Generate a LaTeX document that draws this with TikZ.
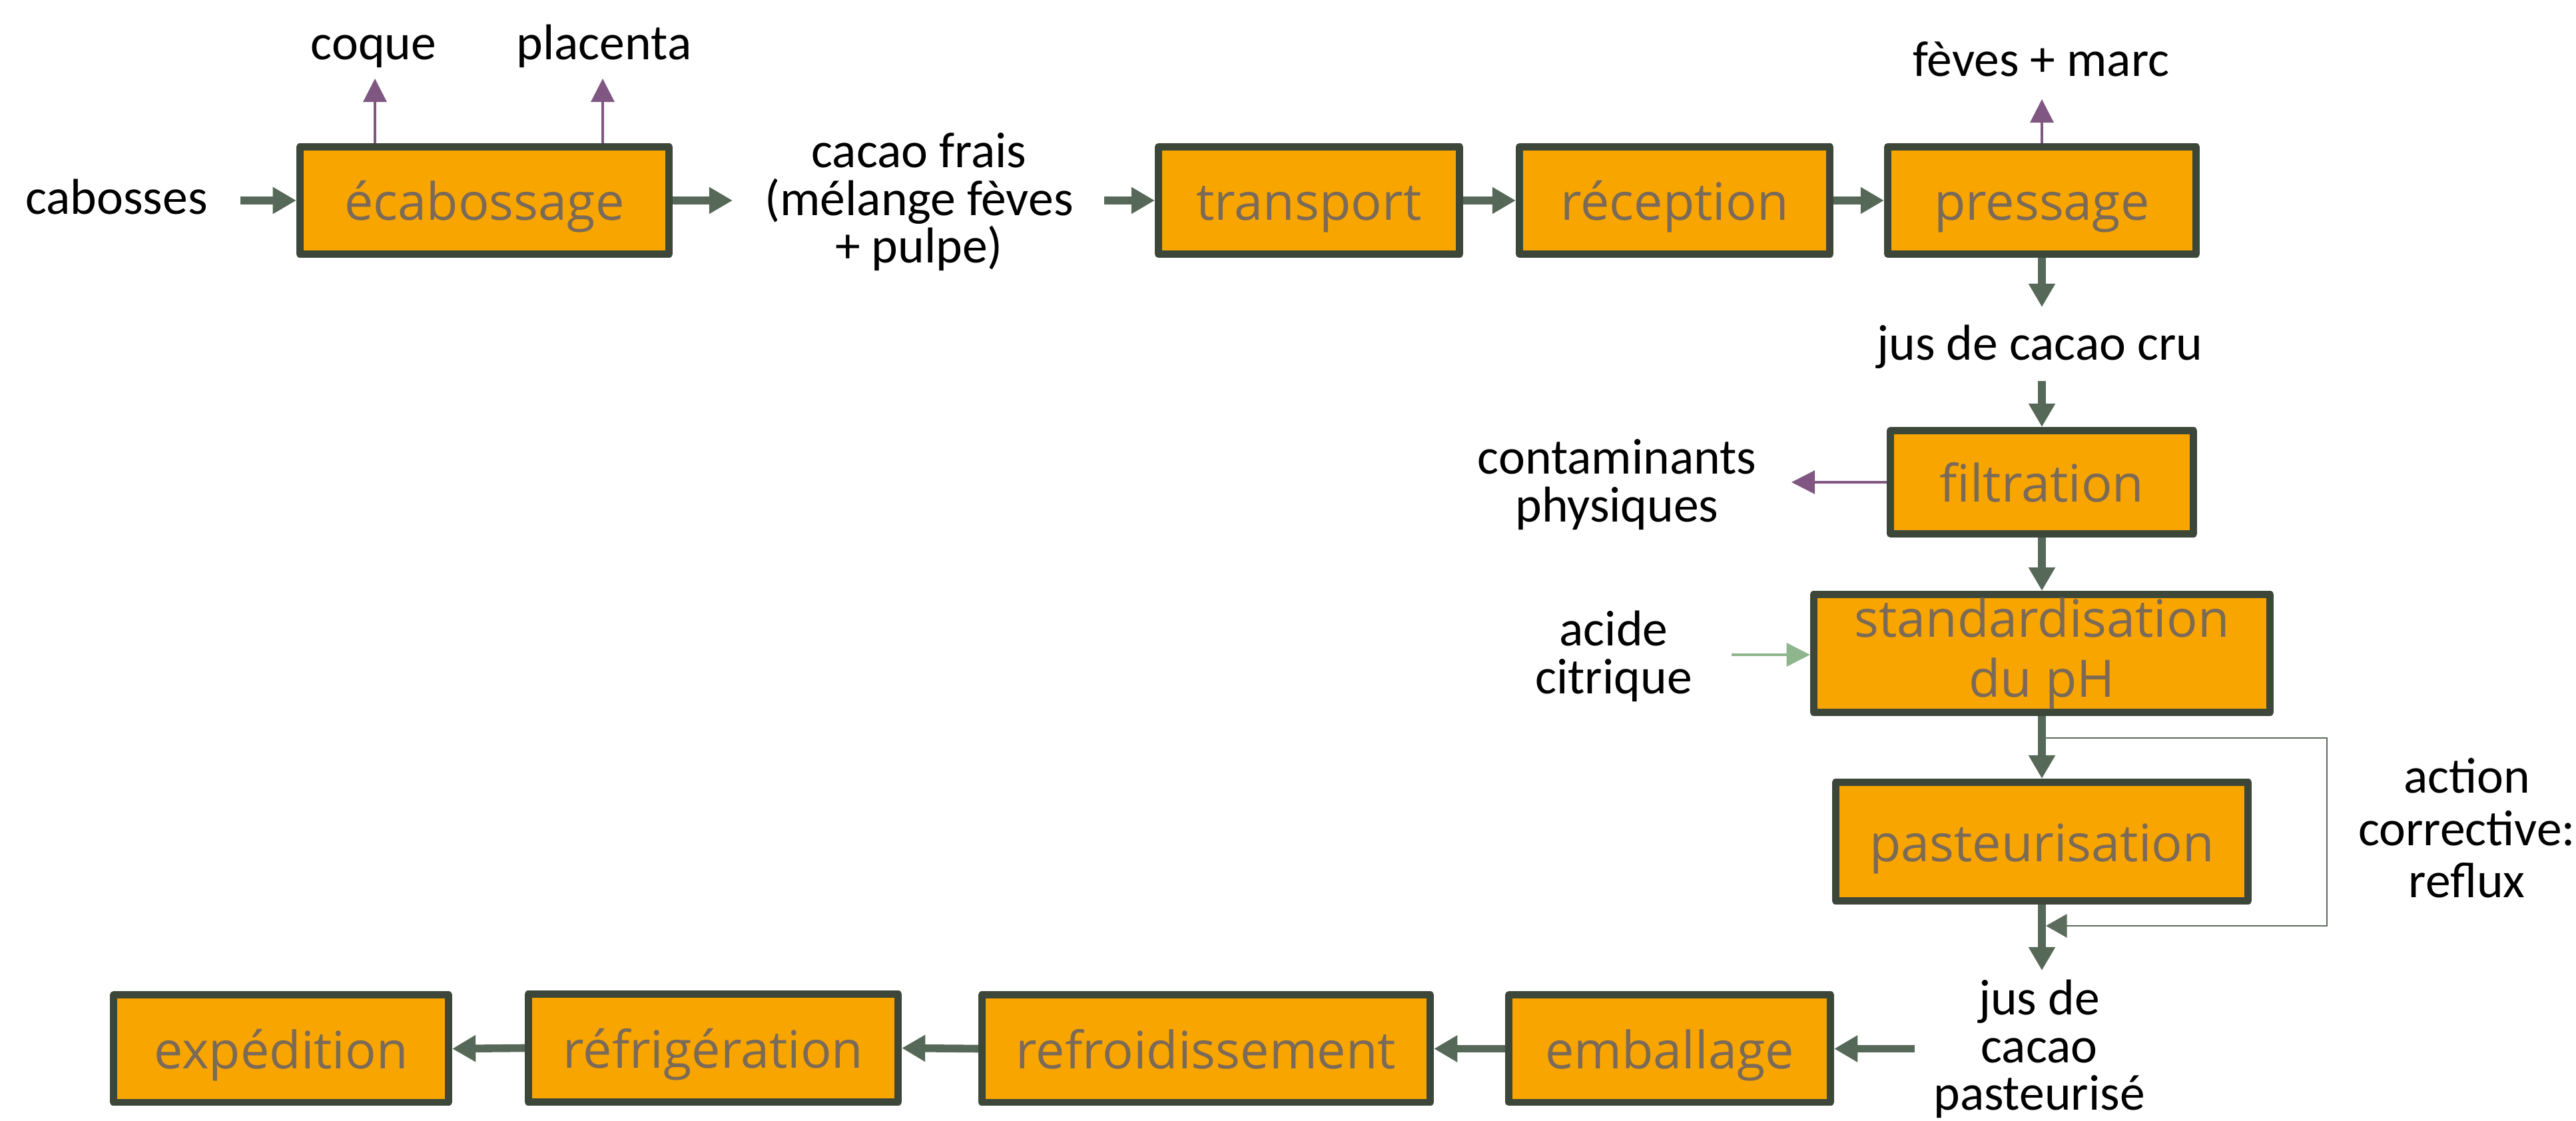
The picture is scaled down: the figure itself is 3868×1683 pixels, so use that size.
\documentclass[tikz,border=0pt]{standalone}
\usepackage{fontspec}
\setmainfont{Carlito}
\newfontfamily\boxfont{Open Sans}
\usetikzlibrary{arrows.meta}
\definecolor{boxfill}{HTML}{F8A500}
\definecolor{boxline}{HTML}{3C473A}
\definecolor{flow}{HTML}{566858}
\definecolor{waste}{HTML}{805782}
\definecolor{addin}{HTML}{8FB58C}
\definecolor{boxtext}{HTML}{7B6A58}
\definecolor{fbline}{HTML}{5D6D5D}
\newcommand\ml[1]{\vtop{\lineskiplimit=-100pt\lineskip=0pt\halign{\hfil##\hfil\cr#1\crcr}}}
\begin{document}
\begin{tikzpicture}[x=0.01cm,y=-0.01cm,
  procbase/.style={draw=boxline, line width=3.1pt, line join=round, fill=boxfill, text=boxtext,
    font=\boxfont\fontsize{22}{25.6}\selectfont, inner sep=0pt, minimum height=1.61cm},
  proc/.style={procbase, text height=21pt, text depth=4pt},
  lbl/.style={anchor=base, inner sep=0pt, font=\fontsize{21.5}{20.3}\selectfont},
  flowarr/.style={draw=flow, line width=3.3pt, -{Triangle[length=10pt,width=10.8pt]}},
  wastearr/.style={draw=waste, line width=0.9pt, -{Triangle[length=10pt,width=10pt]}},
  addarr/.style={draw=addin, line width=0.9pt, -{Triangle[length=10pt,width=10pt]}},
  looparr/.style={draw=fbline, line width=0.7pt, -{Triangle[length=9pt,width=10pt]}}
]
\useasboundingbox (0,0) rectangle (3868,1683);

% process boxes
\node[proc, minimum width=5.54cm] (ecab) at (727.5,301) {écabossage};
\node[proc, minimum width=4.52cm] (transp) at (1965.5,301) {transport};
\node[proc, minimum width=4.66cm] (recep) at (2514.5,301) {réception};
\node[proc, minimum width=4.63cm] (press) at (3066,301) {pressage};
\node[proc, minimum width=4.55cm, minimum height=1.55cm] (filt) at (3066,724) {filtration};
\node[procbase, minimum width=6.85cm, minimum height=1.77cm, align=center] (stdph) at (3066,981) {standardisation\\du pH};
\node[proc, minimum width=6.19cm, minimum height=1.78cm] (past) at (3066,1263.5) {pasteurisation};
\node[proc, minimum width=4.83cm] (emb) at (2507,1574.5) {emballage};
\node[proc, minimum width=6.73cm] (refroid) at (1811,1574.5) {refroidissement};
\node[proc, minimum width=5.55cm, minimum height=1.62cm] (refrig) at (1071,1573.5) {réfrigération};
\node[proc, minimum width=5.03cm] (exped) at (422,1574.5) {expédition};

% labels
\node[lbl] (cab) at (175,322) {cabosses};
\node[lbl] (coque) at (561,90) {coque};
\node[lbl] (plac) at (907,90) {placenta};
\node[lbl] (frais) at (1380,252) {\ml{cacao frais\cr (mélange fèves\cr + pulpe)}};
\node[lbl] (feves) at (3065,115) {fèves + marc};
\node[lbl] (jcru) at (3063,541) {jus de cacao cru};
\node[lbl] (contam) at (2428,712) {\ml{contaminants\cr physiques}};
\node[lbl] (acide) at (2423,970) {\ml{acide\cr citrique}};
\node[lbl, font=\fontsize{21.5}{22.2}\selectfont] (action) at (3704,1191) {\ml{action\cr corrective:\cr reflux}};
\node[lbl] (jpast) at (3062,1524) {\ml{jus de\cr cacao\cr pasteurisé}};

% coordinates for free ends
\coordinate (cabs) at (361,301);
\coordinate (fraisin) at (1100,301);
\coordinate (fraisout) at (1658,301);
\coordinate (coqt) at (563,118);
\coordinate (plact) at (905,118);
\coordinate (fevt) at (3066,149);
\coordinate (jcrut) at (3066,461);
\coordinate (jcrus) at (3066,572);
\coordinate (contt) at (2690,724);
\coordinate (acids) at (2600,983);
\coordinate (loopa) at (3066,1108);
\coordinate (loopb) at (3494,1108);
\coordinate (loopc) at (3494,1390);
\coordinate (loopd) at (3072,1390);
\coordinate (jpt) at (3066,1457);
\coordinate (embs) at (2875,1574.5);

% main flow
\draw[flowarr] (cabs) -- (ecab.west);
\draw[flowarr] (ecab.east) -- (fraisin);
\draw[flowarr] (fraisout) -- (transp.west);
\draw[flowarr] (transp.east) -- (recep.west);
\draw[flowarr] (recep.east) -- (press.west);
\draw[flowarr] (press.south) -- (jcrut);
\draw[flowarr] (jcrus) -- (filt.north);
\draw[flowarr] (filt.south) -- (stdph.north);
\draw[flowarr] (stdph.south) -- (past.north);
\draw[flowarr] (past.south) -- (jpt);
\draw[flowarr] (embs) -- (emb.east);
\draw[flowarr] (emb.west) -- (refroid.east);
\draw[flowarr] (refroid.west) -- (refrig.east);
\draw[flowarr] (refrig.west) -- (exped.east);

% by-products
\draw[wastearr] (ecab.north -| coqt) -- (coqt);
\draw[wastearr] (ecab.north -| plact) -- (plact);
\draw[wastearr] (press.north) -- (fevt);
\draw[wastearr] (filt.west) -- (contt);

% addition
\draw[addarr] (acids) -- (acids -| stdph.west);

% corrective loop
\draw[looparr] (loopa) -- (loopb) -- (loopc) -- (loopd);
\end{tikzpicture}
\end{document}
